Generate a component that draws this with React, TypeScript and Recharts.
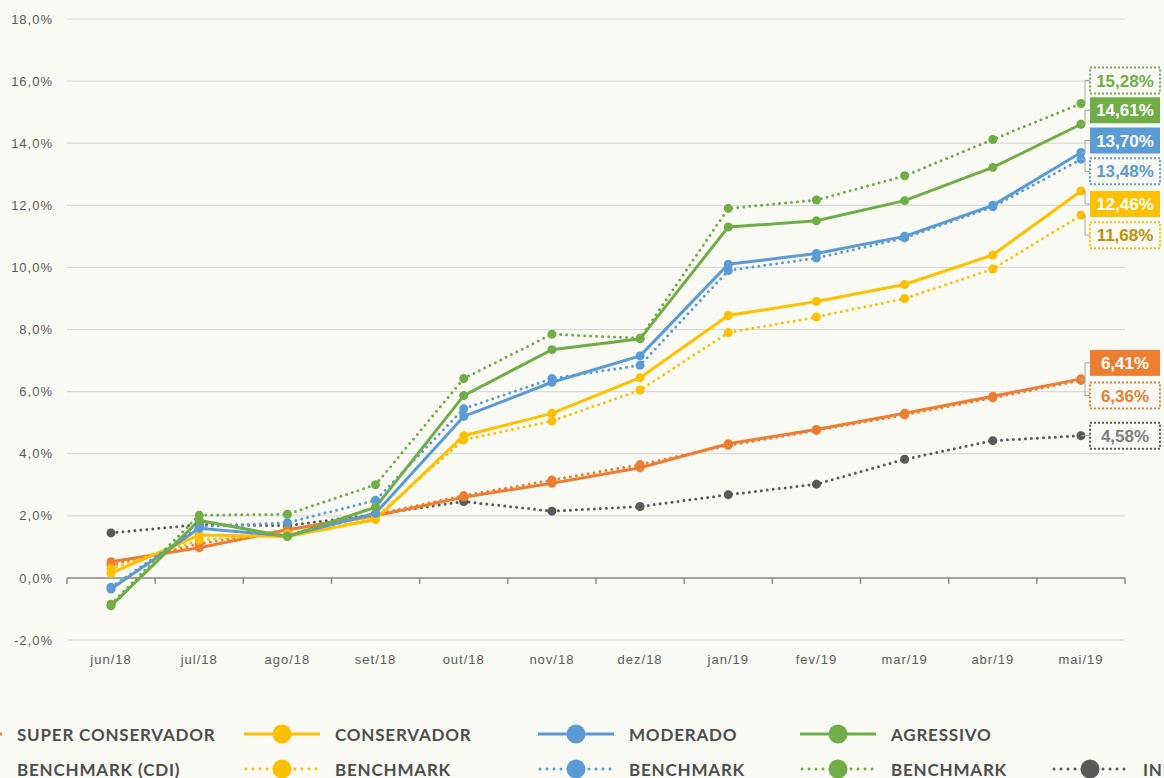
import { LineChart, Line, XAxis, YAxis, CartesianGrid, ReferenceLine, LabelList } from 'recharts'

const months = ['jun/18', 'jul/18', 'ago/18', 'set/18', 'out/18', 'nov/18', 'dez/18', 'jan/19', 'fev/19', 'mar/19', 'abr/19', 'mai/19']

const superConservador = [0.52, 0.97, 1.55, 2.0, 2.6, 3.05, 3.55, 4.32, 4.78, 5.3, 5.85, 6.41]
const benchmarkCdi = [0.42, 1.1, 1.55, 2.05, 2.65, 3.15, 3.65, 4.27, 4.75, 5.25, 5.8, 6.36]
const conservador = [0.15, 1.38, 1.33, 1.88, 4.58, 5.3, 6.45, 8.45, 8.9, 9.45, 10.4, 12.46]
const benchmarkConservador = [0.3, 1.22, 1.42, 1.95, 4.45, 5.05, 6.05, 7.9, 8.4, 9.0, 9.95, 11.68]
const moderado = [-0.36, 1.6, 1.35, 2.08, 5.2, 6.3, 7.15, 10.1, 10.45, 11.0, 12.0, 13.7]
const benchmarkModerado = [-0.3, 1.65, 1.78, 2.5, 5.45, 6.42, 6.85, 9.9, 10.3, 10.95, 11.95, 13.48]
const agressivo = [-0.9, 1.85, 1.33, 2.28, 5.87, 7.35, 7.7, 11.3, 11.5, 12.15, 13.22, 14.61]
const benchmarkAgressivo = [-0.85, 2.02, 2.05, 3.0, 6.42, 7.85, 7.72, 11.9, 12.17, 12.95, 14.12, 15.28]
const inpc = [1.45, 1.72, 1.68, 2.05, 2.46, 2.15, 2.3, 2.68, 3.02, 3.82, 4.42, 4.58]

const yTicks = [-2, 0, 2, 4, 6, 8, 10, 12, 14, 16, 18]

const ORANGE = '#ed7d31'
const YELLOW = '#ffc000'
const BLUE = '#5b9bd5'
const GREEN = '#70ad47'
const GRAY = '#595959'
const BG = '#fafaf5'

interface Series {
  key: string
  legend: string
  color: string
  textColor: string
  dotted: boolean
  labelDy: number
  row: number
  col: number
}

// draw order: first is at the back
const series: Series[] = [
  { key: 'inpc', legend: 'INPC', color: GRAY, textColor: '#7f7f7f', dotted: true, labelDy: 0, row: 1, col: 4 },
  { key: 'benchmarkCdi', legend: 'BENCHMARK (CDI)', color: ORANGE, textColor: ORANGE, dotted: true, labelDy: 15, row: 1, col: 0 },
  { key: 'superConservador', legend: 'SUPER CONSERVADOR', color: ORANGE, textColor: '#fff', dotted: false, labelDy: -16, row: 0, col: 0 },
  { key: 'benchmarkConservador', legend: 'BENCHMARK', color: YELLOW, textColor: '#bf9000', dotted: true, labelDy: 20, row: 1, col: 1 },
  { key: 'conservador', legend: 'CONSERVADOR', color: YELLOW, textColor: '#fff', dotted: false, labelDy: 13, row: 0, col: 1 },
  { key: 'benchmarkModerado', legend: 'BENCHMARK', color: BLUE, textColor: BLUE, dotted: true, labelDy: 12, row: 1, col: 2 },
  { key: 'moderado', legend: 'MODERADO', color: BLUE, textColor: '#fff', dotted: false, labelDy: -12, row: 0, col: 2 },
  { key: 'benchmarkAgressivo', legend: 'BENCHMARK', color: GREEN, textColor: GREEN, dotted: true, labelDy: -23, row: 1, col: 3 },
  { key: 'agressivo', legend: 'AGRESSIVO', color: GREEN, textColor: '#fff', dotted: false, labelDy: -14, row: 0, col: 3 },
]

const data = months.map((month, i) => ({
  month,
  superConservador: superConservador[i],
  benchmarkCdi: benchmarkCdi[i],
  conservador: conservador[i],
  benchmarkConservador: benchmarkConservador[i],
  moderado: moderado[i],
  benchmarkModerado: benchmarkModerado[i],
  agressivo: agressivo[i],
  benchmarkAgressivo: benchmarkAgressivo[i],
  inpc: inpc[i],
}))

const legendColX = [-74, 244, 538, 800, 1052]
const legendRowY = [734, 769]
const BAND_PAD = 44

function formatPct(v: number, digits: number) {
  return v.toFixed(digits).replace('.', ',') + '%'
}

function EndLabel(props: any) {
  const { x, y, value, index, s } = props
  if (index !== months.length - 1 || x == null) return null
  const boxX = x + 9
  const boxY = y + s.labelDy
  const filled = !s.dotted
  return (
    <g>
      <path
        d={`M${x},${y} L${x + 4},${y} L${x + 4},${boxY} L${boxX},${boxY}`}
        stroke="#a6a6a6"
        strokeWidth={1}
        fill="none"
      />
      <rect
        x={boxX}
        y={boxY - 13}
        width={70}
        height={26}
        fill={filled ? s.color : BG}
        stroke={filled ? 'none' : s.color}
        strokeWidth={2}
        strokeDasharray={filled ? undefined : '2 2'}
      />
      <text
        x={boxX + 35}
        y={boxY}
        dy="0.36em"
        textAnchor="middle"
        fill={s.textColor}
        style={{ fontFamily: '"Liberation Sans", Arial, sans-serif', fontSize: 17, fontWeight: 700 }}
      >
        {formatPct(value, 2)}
      </text>
    </g>
  )
}

// zero line with Excel-like tick marks on category boundaries
function ZeroAxis(props: any) {
  const { x1, x2, y1 } = props
  const left = x1
  const right = x2
  const step = (right - left) / months.length
  const ticks = months.map((_, i) => left + i * step).concat([right])
  return (
    <g>
      <line x1={left} x2={right} y1={y1} y2={y1} stroke="#8c8c8c" strokeWidth={1.5} />
      {ticks.map((tx, i) => (
        <line key={i} x1={tx} x2={tx} y1={y1} y2={y1 + 6} stroke="#8c8c8c" strokeWidth={1.5} />
      ))}
    </g>
  )
}

function LegendIcon(props: { color: string; dotted: boolean }) {
  return (
    <svg width={76} height={22} style={{ display: 'block' }}>
      <line
        x1={props.dotted ? 2 : 0}
        x2={props.dotted ? 74 : 76}
        y1={11}
        y2={11}
        stroke={props.color}
        strokeWidth={3}
        strokeLinecap={props.dotted ? 'round' : 'butt'}
        strokeDasharray={props.dotted ? '0 7' : undefined}
      />
      <circle cx={38} cy={11} r={9.5} fill={props.color} />
    </svg>
  )
}

function Legend() {
  return (
    <>
      {series.map(s => (
        <div
          key={s.key + s.row}
          style={{
            position: 'absolute',
            left: legendColX[s.col],
            top: legendRowY[s.row] - 11,
            height: 22,
            display: 'flex',
            alignItems: 'center',
            whiteSpace: 'nowrap',
          }}
        >
          <LegendIcon color={s.color} dotted={s.dotted} />
          <span
            style={{
              marginLeft: 15,
              fontFamily: 'Lato, sans-serif',
              fontWeight: 700,
              fontSize: 17,
              letterSpacing: 0.8,
              color: '#4d4d4d',
            }}
          >
            {s.legend}
          </span>
        </div>
      ))}
    </>
  )
}

export default function App() {
  return (
    <div style={{ position: 'fixed', inset: 0, background: BG, overflow: 'hidden' }}>
      <div style={{ position: 'absolute', left: 0, top: 0 }}>
        <LineChart width={1164} height={778} data={data} margin={{ top: 19, right: 39, left: 0, bottom: 108 }}>
          <CartesianGrid vertical={false} stroke="#d9d9d9" strokeWidth={1.2} />
          <XAxis
            dataKey="month"
            axisLine={false}
            tickLine={false}
            tickMargin={9}
            interval={0}
            padding={{ left: BAND_PAD, right: BAND_PAD }}
            tick={{ fill: GRAY, fontSize: 13, fontFamily: '"Liberation Sans", Arial, sans-serif', letterSpacing: 1 }}
          />
          <YAxis
            width={67}
            domain={[-2, 18]}
            ticks={yTicks}
            axisLine={false}
            tickLine={false}
            tickMargin={8}
            tickFormatter={(v: number) => formatPct(v, 1)}
            tick={{ fill: GRAY, fontSize: 13, fontFamily: '"Liberation Sans", Arial, sans-serif', letterSpacing: 1 }}
          />
          <ReferenceLine y={0} shape={(p: any) => <ZeroAxis {...p} />} />
          {series.map(s => (
            <Line
              key={s.key}
              dataKey={s.key}
              type="linear"
              stroke={s.color}
              strokeWidth={3}
              strokeLinecap="round"
              strokeDasharray={s.dotted ? '0 6' : undefined}
              dot={{ r: 4.5, fill: s.color, stroke: 'none', strokeDasharray: '' }}
              activeDot={false}
              isAnimationActive={false}
            >
              <LabelList dataKey={s.key} content={(p: any) => <EndLabel {...p} s={s} />} />
            </Line>
          ))}
        </LineChart>
      </div>
      <Legend />
    </div>
  )
}
